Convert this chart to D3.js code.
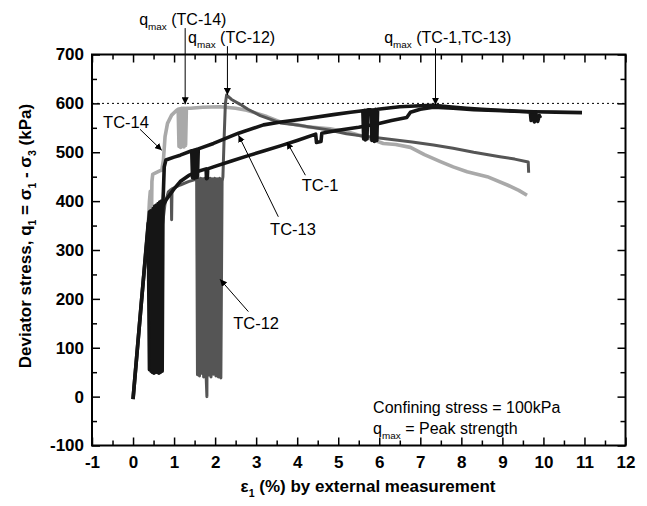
<!DOCTYPE html>
<html>
<head>
<meta charset="utf-8">
<script src="https://cdn.jsdelivr.net/npm/d3@7"></script>
<style>
body { margin: 0; background: #fff; }
text { font-family: "Liberation Sans", Arial, Helvetica, sans-serif; fill: #000; }
</style>
</head>
<body>
<div id="chart"></div>
<script>
// tick labels
var xTickLabels = ["-1", "0", "1", "2", "3", "4", "5", "6", "7", "8", "9", "10", "11", "12"];
var yTickLabels = ["-100", "0", "100", "200", "300", "400", "500", "600", "700"];

// strain (%) , deviator stress (kPa)
var tc14 = [[0.33, 280], [0.40, 400], [0.42, 420], [0.44, 300], [0.46, 440], [0.48, 455], [0.55, 458], [0.65, 462],
    [0.70, 463], [0.74, 484], [0.78, 532], [0.84, 559], [0.94, 576], [1.05, 585],
    [1.10, 588], [1.12, 512], [1.14, 589], [1.16, 510], [1.18, 590], [1.20, 512], [1.22, 590], [1.24, 511],
    [1.26, 590], [1.28, 514], [1.30, 590], [1.40, 590], [1.70, 592], [2.12, 593], [2.50, 590], [2.77, 586],
    [3.00, 580], [3.26, 573], [3.59, 562], [4.00, 556], [4.24, 552], [4.80, 548], [5.30, 540], [5.70, 530],
    [6.10, 518], [6.40, 516], [6.76, 510], [7.10, 495], [7.49, 481], [7.80, 470], [8.14, 460], [8.63, 450],
    [9.12, 433], [9.40, 422], [9.60, 412]];

var tc12 = [[0.62, 260], [0.70, 340], [0.78, 395], [0.86, 419], [0.93, 424], [0.94, 362], [0.95, 425], [1.15, 433],
    [1.35, 440], [1.55, 445], [1.57, 45], [1.60, 446], [1.62, 42], [1.65, 447], [1.67, 48], [1.70, 446],
    [1.72, 40], [1.75, 447], [1.78, 45], [1.80, 0], [1.82, 446], [1.85, 44], [1.88, 447], [1.90, 40],
    [1.93, 446], [1.96, 46], [1.99, 447], [2.02, 42], [2.05, 446], [2.08, 40], [2.11, 447], [2.14, 38],
    [2.17, 440], [2.19, 450], [2.22, 530], [2.25, 600], [2.28, 617], [2.40, 608], [2.61, 598], [2.80, 588],
    [3.10, 575], [3.59, 560], [4.07, 555], [4.80, 545], [5.20, 538], [5.70, 532], [6.20, 527], [6.80, 521],
    [7.32, 515], [7.80, 508], [8.30, 500], [8.94, 491], [9.30, 486], [9.63, 480], [9.64, 458]];

var tc1 = [[0, -5], [0.18, 170], [0.37, 355], [0.40, 55], [0.42, 360], [0.44, 52], [0.46, 365], [0.48, 50],
    [0.50, 368], [0.52, 55], [0.54, 370], [0.56, 50], [0.58, 372], [0.60, 52], [0.62, 375], [0.70, 385],
    [0.80, 402], [1.00, 425], [1.15, 440], [1.35, 452], [1.55, 460], [1.78, 466], [1.79, 446], [1.81, 447],
    [1.82, 466], [1.96, 470], [2.40, 482], [2.77, 492], [3.20, 503], [3.59, 513], [4.00, 524], [4.45, 537],
    [4.47, 520], [4.52, 521], [4.58, 522], [4.60, 539], [5.00, 545], [5.50, 551], [5.94, 558], [6.30, 565],
    [6.67, 571], [6.76, 582], [7.00, 588], [7.32, 592], [7.80, 590], [8.30, 587], [9.00, 585], [9.60, 583],
    [9.68, 582], [9.70, 565], [9.74, 580], [9.78, 562], [9.82, 578], [9.86, 563], [9.90, 575], [9.93, 570]];

var tc13 = [[0, -5], [0.20, 190], [0.40, 378], [0.43, 380], [0.47, 50], [0.49, 385], [0.51, 48], [0.53, 390],
    [0.55, 52], [0.57, 392], [0.59, 50], [0.61, 395], [0.63, 48], [0.65, 398], [0.67, 50], [0.69, 400],
    [0.71, 52], [0.73, 402], [0.74, 420], [0.76, 470], [0.80, 484], [1.00, 490], [1.15, 494], [1.43, 503],
    [1.45, 448], [1.47, 504], [1.49, 447], [1.51, 505], [1.53, 448], [1.55, 506], [1.57, 449], [1.59, 507],
    [1.96, 518], [2.57, 539], [3.18, 556], [3.60, 562], [4.07, 567], [4.88, 577], [5.30, 582], [5.60, 585],
    [5.62, 527], [5.64, 586], [5.66, 525], [5.68, 586], [5.70, 527], [5.72, 587], [5.80, 587], [5.82, 524],
    [5.85, 587], [5.88, 522], [5.91, 588], [5.94, 524], [5.96, 588], [6.50, 593], [7.00, 595], [7.32, 596],
    [7.70, 593], [8.13, 590], [8.50, 588], [8.94, 586], [9.40, 584], [9.76, 583], [10.30, 582], [10.94, 581]];

var series = [
    { name: "TC-14", data: tc14, color: "#a9a9a9", w: 3.6 },
    { name: "TC-12", data: tc12, color: "#555555", w: 3 },
    { name: "TC-1", data: tc1, color: "#151515", w: 3.6 },
    { name: "TC-13", data: tc13, color: "#151515", w: 3.6 }
];

var width = 647;
var height = 506;
var margin = { top: 54.5, right: 21.5, bottom: 60.5, left: 92 };

var x = d3.scaleLinear().domain([-1, 12]).range([margin.left, width - margin.right]);
var y = d3.scaleLinear().domain([-100, 700]).range([height - margin.bottom, margin.top]);

var xMajor = xTickLabels.map(Number);
var yMajor = yTickLabels.map(Number);
var xMinor = d3.range(-0.5, 12, 1);
var yMinor = d3.range(-50, 700, 100);

var svg = d3.select("#chart").append("svg")
    .attr("width", width)
    .attr("height", height)
    .style("background", "#fff");

svg.append("defs").append("marker")
    .attr("id", "head")
    .attr("viewBox", "0 0 10 10")
    .attr("refX", 10).attr("refY", 5)
    .attr("markerWidth", 7).attr("markerHeight", 7)
    .attr("markerUnits", "userSpaceOnUse")
    .attr("orient", "auto")
    .append("path").attr("d", "M0,0L10,5L0,10Z").attr("fill", "#000");

function styleAxis(g) {
    g.select(".domain").remove();
    g.selectAll(".tick line").attr("stroke", "#000").attr("stroke-width", 1.5);
    g.selectAll(".tick text").attr("font-size", 17).attr("font-weight", "bold")
        .attr("font-family", "'Liberation Sans', Arial, sans-serif");
}

// bottom
svg.append("g").attr("transform", `translate(0,${y(-100)})`)
    .call(d3.axisBottom(x).tickValues(xMajor).tickFormat((d, i) => xTickLabels[i]).tickSize(-8).tickPadding(10))
    .call(styleAxis);
svg.append("g").attr("transform", `translate(0,${y(-100)})`)
    .call(d3.axisBottom(x).tickValues(xMinor).tickFormat("").tickSize(-5))
    .call(styleAxis);
// top
svg.append("g").attr("transform", `translate(0,${y(700)})`)
    .call(d3.axisTop(x).tickValues(xMajor).tickFormat("").tickSize(-8))
    .call(styleAxis);
svg.append("g").attr("transform", `translate(0,${y(700)})`)
    .call(d3.axisTop(x).tickValues(xMinor).tickFormat("").tickSize(-5))
    .call(styleAxis);
// left
svg.append("g").attr("transform", `translate(${x(-1)},0)`)
    .call(d3.axisLeft(y).tickValues(yMajor).tickFormat((d, i) => yTickLabels[i]).tickSize(-8).tickPadding(8))
    .call(styleAxis);
svg.append("g").attr("transform", `translate(${x(-1)},0)`)
    .call(d3.axisLeft(y).tickValues(yMinor).tickFormat("").tickSize(-5))
    .call(styleAxis);
// right
svg.append("g").attr("transform", `translate(${x(12)},0)`)
    .call(d3.axisRight(y).tickValues(yMajor).tickFormat("").tickSize(-8))
    .call(styleAxis);
svg.append("g").attr("transform", `translate(${x(12)},0)`)
    .call(d3.axisRight(y).tickValues(yMinor).tickFormat("").tickSize(-5))
    .call(styleAxis);

// 600 kPa reference line
svg.append("line")
    .attr("x1", x(-1)).attr("x2", x(12))
    .attr("y1", y(600)).attr("y2", y(600))
    .attr("stroke", "#000").attr("stroke-width", 1)
    .attr("stroke-dasharray", "2,3");

var line = d3.line()
    .x(function (d) { return x(d[0]) })
    .y(function (d) { return y(d[1]) });

series.forEach(function (s) {
    svg.append("path")
        .datum(s.data)
        .attr("fill", "none")
        .attr("stroke", s.color)
        .attr("stroke-width", s.w)
        .attr("stroke-linejoin", "round")
        .attr("d", line);
});

// frame
svg.append("rect")
    .attr("x", x(-1)).attr("y", y(700))
    .attr("width", x(12) - x(-1)).attr("height", y(-100) - y(700))
    .attr("fill", "none").attr("stroke", "#000").attr("stroke-width", 2);

// text with subscripts: parts = [[string, isSub], ...]
function richText(g, px, py, parts, size, weight, anchor) {
    var t = g.append("text")
        .attr("x", px).attr("y", py)
        .attr("font-size", size)
        .attr("font-weight", weight || "normal")
        .attr("text-anchor", anchor || "start");
    var shifted = false;
    parts.forEach(function (p) {
        var ts = t.append("tspan").text(p[0]);
        if (p[1] && !shifted) { ts.attr("dy", size * 0.28).attr("font-size", size * 0.62); shifted = true; }
        else if (p[1]) { ts.attr("font-size", size * 0.62); }
        else if (shifted) { ts.attr("dy", -size * 0.28); shifted = false; }
    });
    return t;
}

// peak strength call-outs (data coordinates)
var peakNotes = [
    { parts: [["q", 0], ["max", 1], [" (TC-14)", 0]], tx: 0.15, ty: 760, ax: 1.27, ay0: 754, ay1: 598 },
    { parts: [["q", 0], ["max", 1], [" (TC-12)", 0]], tx: 1.34, ty: 723, ax: 2.30, ay0: 717, ay1: 617 },
    { parts: [["q", 0], ["max", 1], [" (TC-1,TC-13)", 0]], tx: 6.12, ty: 723, ax: 7.37, ay0: 713, ay1: 597 }
];
peakNotes.forEach(function (n) {
    richText(svg, x(n.tx), y(n.ty), n.parts, 16);
    svg.append("line")
        .attr("x1", x(n.ax)).attr("x2", x(n.ax))
        .attr("y1", y(n.ay0)).attr("y2", y(n.ay1))
        .attr("stroke", "#000").attr("stroke-width", 1)
        .attr("marker-end", "url(#head)");
});

// curve labels with leader arrows (data coordinates)
var curveNotes = [
    { text: "TC-14", tx: -0.73, ty: 550, x0: 0.17, y0: 547, x1: 0.70, y1: 504 },
    { text: "TC-13", tx: 3.34, ty: 331, x0: 3.54, y0: 368, x1: 2.57, y1: 535 },
    { text: "TC-1", tx: 4.11, ty: 421, x0: 4.20, y0: 453, x1: 3.75, y1: 521 },
    { text: "TC-12", tx: 2.44, ty: 138, x0: 2.81, y0: 174, x1: 2.12, y1: 240 }
];
curveNotes.forEach(function (n) {
    svg.append("text")
        .attr("x", x(n.tx)).attr("y", y(n.ty))
        .attr("font-size", 16.5)
        .text(n.text);
    svg.append("line")
        .attr("x1", x(n.x0)).attr("y1", y(n.y0))
        .attr("x2", x(n.x1)).attr("y2", y(n.y1))
        .attr("stroke", "#000").attr("stroke-width", 1)
        .attr("marker-end", "url(#head)");
});

richText(svg, x(5.85), y(-33), [["Confining stress = 100kPa", 0]], 16);
richText(svg, x(5.85), y(-77), [["q", 0], ["max", 1], [" = Peak strength", 0]], 16);

// axis titles
richText(svg, 368, 492, [["\u03b5", 0], ["1", 1], [" (%) by external measurement", 0]], 17, "bold", "middle");
richText(svg, 0, 0, [["Deviator stress, q", 0], ["1", 1], [" = \u03c3", 0], ["1", 1], [" - \u03c3", 0], ["3", 1], [" (kPa)", 0]], 17, "bold", "middle")
    .attr("transform", "translate(31,236) rotate(-90)");
</script>
</body>
</html>
